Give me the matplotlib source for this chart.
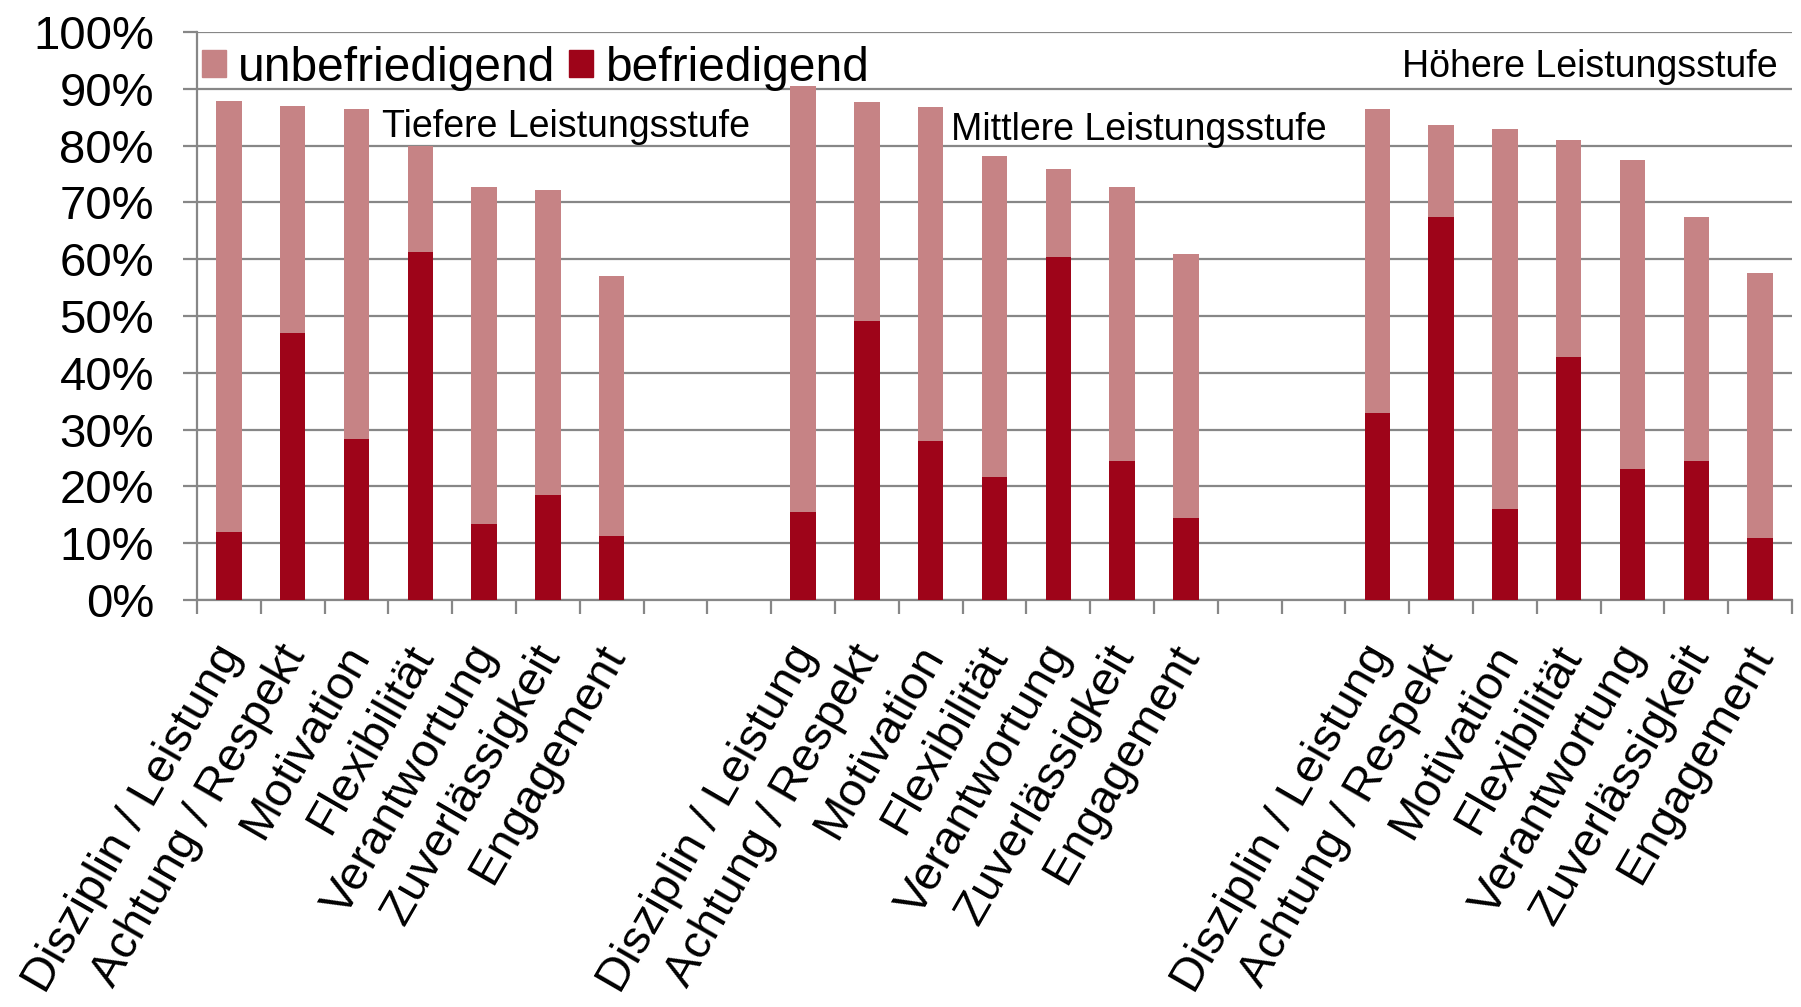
import matplotlib
matplotlib.use("Agg")
import matplotlib.pyplot as plt
import matplotlib.transforms as mtransforms
from matplotlib.patches import Patch
from matplotlib.ticker import FixedLocator

plt.rcParams["font.family"] = ["Liberation Sans", "DejaVu Sans"]

# Merkmale je Leistungsstufe
kategorien = ["Disziplin / Leistung", "Achtung / Respekt", "Motivation",
              "Flexibilität", "Verantwortung", "Zuverlässigkeit", "Engagement"]

stufen = ["Tiefere Leistungsstufe", "Mittlere Leistungsstufe", "Höhere Leistungsstufe"]

# Anteil "befriedigend" (in %)
befriedigend_tief = [11.9, 47.0, 28.3, 61.3, 13.4, 18.4, 11.2]
befriedigend_mittel = [15.5, 49.2, 28.0, 21.6, 60.4, 24.5, 14.5]
befriedigend_hoch = [32.9, 67.5, 16.1, 42.8, 23.1, 24.5, 11.0]

# Anteil "unbefriedigend" (in %), gestapelt auf "befriedigend"
unbefriedigend_tief = [75.9, 40.0, 58.1, 18.7, 59.3, 53.7, 45.9]
unbefriedigend_mittel = [75.0, 38.4, 58.8, 56.6, 15.4, 48.2, 46.4]
unbefriedigend_hoch = [53.6, 16.2, 66.9, 38.1, 54.4, 43.0, 46.6]

y_ticks = [0, 10, 20, 30, 40, 50, 60, 70, 80, 90, 100]

HELL = "#C68385"
DUNKEL = "#9E0419"
GRAU = "#878787"

fig = plt.figure(figsize=(18.01, 10.07), dpi=100)
ax = fig.add_axes([197 / 1801, 1 - 600 / 1007, 1595 / 1801, 568 / 1007])

befr = [befriedigend_tief, befriedigend_mittel, befriedigend_hoch]
unbefr = [unbefriedigend_tief, unbefriedigend_mittel, unbefriedigend_hoch]

gruppen_abstand = len(kategorien) + 2
positionen = []
for g in range(3):
    xs = [g * gruppen_abstand + i for i in range(len(kategorien))]
    positionen.extend(xs)
    ax.bar(xs, befr[g], width=0.4, color=DUNKEL, zorder=3)
    ax.bar(xs, unbefr[g], width=0.4, bottom=befr[g], color=HELL, zorder=3)

n_slots = 3 * len(kategorien) + 4
ax.set_xlim(-0.5, n_slots - 0.5)
ax.set_ylim(0, 100)

# y-Achse
ax.set_yticks(y_ticks)
ax.set_yticklabels([f"{v}%" for v in y_ticks], fontsize=34)
ax.yaxis.grid(True, color=GRAU, linewidth=1.6, zorder=0)
ax.tick_params(axis="y", length=10, width=1.6, color=GRAU, pad=21)

# x-Achse: Striche an den Feldgrenzen, Beschriftungen in der Mitte
ax.xaxis.set_minor_locator(FixedLocator([k - 0.5 for k in range(n_slots + 1)]))
ax.set_xticks(positionen)
ax.set_xticklabels(kategorien * 3, fontsize=34, rotation=60,
                   ha="right", va="top", rotation_mode="anchor")
ax.tick_params(axis="x", which="major", length=0, pad=27)
ax.tick_params(axis="x", which="minor", length=10, width=1.6, color=GRAU)
versatz = mtransforms.ScaledTranslation(-16 / 100, 0, fig.dpi_scale_trans)
for lbl in ax.get_xticklabels():
    lbl.set_transform(lbl.get_transform() + versatz)

for side in ["top", "right"]:
    ax.spines[side].set_visible(False)
for side in ["left", "bottom"]:
    ax.spines[side].set_color(GRAU)
    ax.spines[side].set_linewidth(1.6)

# Stufenbezeichnungen
ax.text(2.4, 83.2, stufen[0], fontsize=27, ha="left", va="center")
ax.text(11.32, 82.7, stufen[1], fontsize=27, ha="left", va="center")
ax.text(24.28, 93.9, stufen[2], fontsize=27, ha="right", va="center")

handles = [Patch(color=HELL, label="unbefriedigend"),
           Patch(color=DUNKEL, label="befriedigend")]
ax.legend(handles=handles, loc="center left", bbox_to_anchor=(0.0, 0.936),
          ncol=2, frameon=False, fontsize=34.5, handlelength=0.5,
          handleheight=0.5, handletextpad=0.25, columnspacing=0.3,
          borderpad=0.1, borderaxespad=0)

fig.savefig("out.png", dpi=100)
